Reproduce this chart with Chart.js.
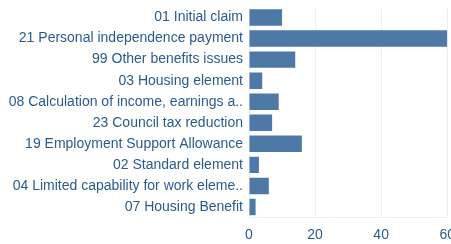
<!DOCTYPE html>
<html>
<head>
<meta charset="utf-8">
<script src="https://cdn.jsdelivr.net/npm/chart.js@4"></script>
<style>
	html, body { margin: 0; padding: 0; overflow: hidden; background: #fff; }
	#caixa { width: 464px; height: 244px; }
</style>
</head>
<body>
<div id="caixa"><canvas id="graficoMotivos"></canvas></div>
<script>
var motivos = [
	'01 Initial claim',
	'21 Personal independence payment',
	'99 Other benefits issues',
	'03 Housing element',
	'08 Calculation of income, earnings a..',
	'23 Council tax reduction',
	'19 Employment Support Allowance',
	'02 Standard element',
	'04 Limited capability for work eleme..',
	'07 Housing Benefit'
];
var totais = [10, 60, 14, 4, 9, 7, 16, 3, 6, 2];
var marcasX = [0, 20, 40, 60];

var corTexto = '#2a5b8e';
var corBarra = '#4e79a7';

var ctx = document.getElementById('graficoMotivos').getContext('2d');
var grafico = new Chart(ctx, {
	type: 'bar',
	data: {
		labels: motivos,
		datasets: [{
			data: totais,
			backgroundColor: corBarra,
			categoryPercentage: 1,
			barPercentage: 0.78
		}]
	},
	options: {
		indexAxis: 'y',
		responsive: true,
		maintainAspectRatio: false,
		animation: false,
		layout: { padding: { top: 7, left: 0, right: 0, bottom: 0 } },
		plugins: { legend: { display: false }, tooltip: { enabled: false } },
		scales: {
			x: {
				min: 0,
				max: 60,
				afterBuildTicks: function(escala) {
					escala.ticks = marcasX.map(function(v) { return { value: v }; });
				},
				afterFit: function(escala) { escala.height = 26.5; },
				grid: { color: '#eeeeee', drawTicks: false },
				border: { display: true, color: '#eeeeee' },
				ticks: { color: corTexto, padding: 9, font: { family: 'Liberation Sans, Arial', size: 14 } }
			},
			y: {
				afterFit: function(escala) {
					escala.width = 249;
					escala.paddingTop = 0;
					escala.paddingBottom = 0;
				},
				grid: { display: false, drawTicks: false },
				border: { display: false },
				ticks: { color: corTexto, padding: 6, font: { family: 'Liberation Sans, Arial', size: 14 } }
			}
		}
	}
});
</script>
</body>
</html>
